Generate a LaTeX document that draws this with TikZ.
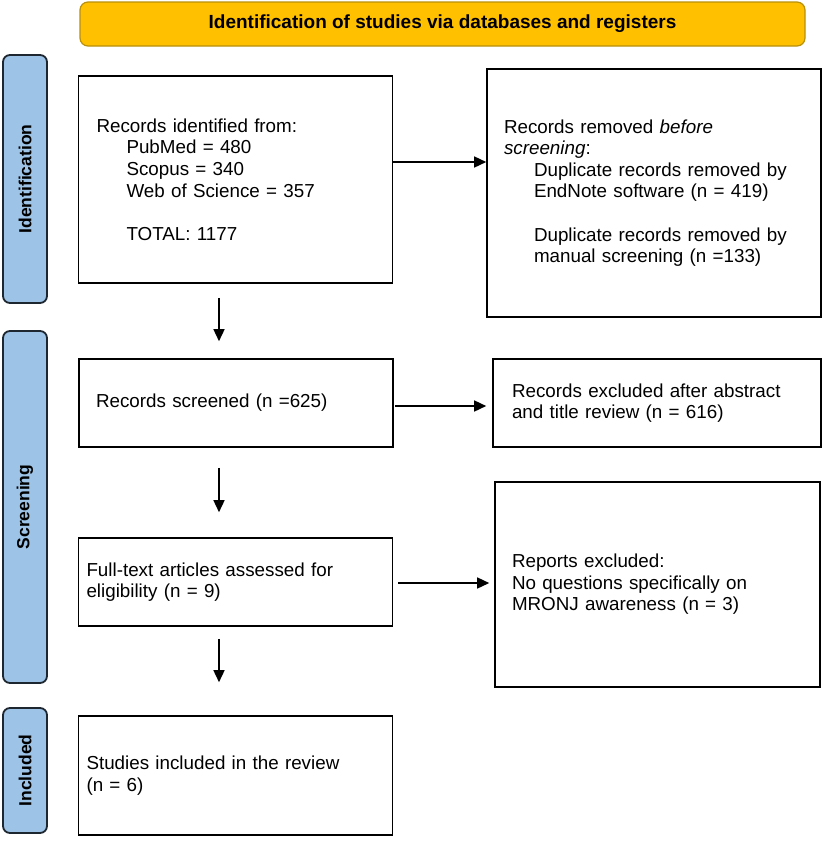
\documentclass[tikz,border=0pt]{standalone}
\usepackage{fontspec}
\setmainfont{Liberation Sans}
\usetikzlibrary{arrows.meta}
\definecolor{bannerfill}{HTML}{FFC000}
\definecolor{bannerdraw}{HTML}{B8900A}
\definecolor{barfill}{HTML}{9DC3E6}
\definecolor{bardraw}{HTML}{1E2630}
\tikzset{
  banner/.style={draw=bannerdraw, fill=bannerfill, line width=1.2pt, rounded corners=8pt,
    minimum width=725pt, minimum height=44pt, inner sep=0pt,
    font=\fontsize{19}{22}\selectfont\bfseries},
  sidebar/.style={draw=bardraw, fill=barfill, line width=1.8pt, rounded corners=7pt, inner sep=0pt},
  sidetext/.style={rotate=90, font=\fontsize{17.5}{20}\selectfont\bfseries, inner sep=0pt},
  flowbox/.style={draw=black, line width=1.6pt, inner ysep=0pt, align=left,
    font=\fontsize{18.8}{21.6}\selectfont},
  arr/.style={draw=black, line width=1.5pt, -{Triangle[length=12pt,width=11pt]}}
}
\newcommand{\ind}{\hspace*{30pt}}
\begin{document}
\begin{tikzpicture}[x=1pt,y=-1pt]
\useasboundingbox (0,0) rectangle (824,846);
% banner
\node[banner] (ban) at (442.5,24) {Identification of studies via databases and registers};
% sidebars
\draw[sidebar] (3,55) rectangle (47,303);
\node[sidetext] (sid1) at (25,179) {Identification};
\draw[sidebar] (3,331) rectangle (47,683);
\node[sidetext] (sid2) at (25,507) {Screening};
\draw[sidebar] (3,708) rectangle (47,833);
\node[sidetext] (sid3) at (25,770.5) {Included};
% boxes
\node[flowbox, minimum height=207pt, text width=278pt, inner xsep=18pt] (A) at (235.5,179.5)
 {Records identified from:\\
  \ind PubMed = 480\\
  \ind Scopus = 340\\
  \ind Web of Science = 357\\[21.6pt]
  \ind TOTAL: 1177};
\node[flowbox, minimum height=248pt, text width=300pt, inner xsep=17pt] (B) at (654,193)
 {Records removed \textit{before}\\
  \textit{screening}:\\
  \ind Duplicate records removed by\\
  \ind EndNote software (n = 419)\\[21.6pt]
  \ind Duplicate records removed by\\
  \ind manual screening (n =133)};
\node[flowbox, minimum height=88pt, text width=280pt, inner xsep=17pt] (C) at (236,403)
 {Records screened (n =625)};
\node[flowbox, minimum height=88pt, text width=290pt, inner xsep=19pt] (D) at (657,403)
 {Records excluded after abstract\\and title review (n = 616)};
\node[flowbox, minimum height=88pt, text width=298pt, inner xsep=8pt] (E) at (235.5,582)
 {Full-text articles assessed for\\eligibility (n = 9)};
\node[flowbox, minimum height=205pt, text width=291pt, inner xsep=17pt] (F) at (657.5,584.5)
 {Reports excluded:\\No questions specifically on\\MRONJ awareness (n = 3)};
\node[flowbox, minimum height=119pt, text width=298pt, inner xsep=8pt] (G) at (235.5,775.5)
 {Studies included in the review\\(n = 6)};
% connector guides
\coordinate (vx) at (219,0);
\coordinate (h1) at (0,162);
\coordinate (h2) at (0,406);
\coordinate (h3) at (0,583);
% arrows
\draw[arr] (A.east |- h1) -- (B.west |- h1);
\draw[arr, shorten <=1pt, shorten >=6pt] (C.east |- h2) -- (D.west |- h2);
\draw[arr, shorten <=5pt, shorten >=5pt] (E.east |- h3) -- (F.west |- h3);
\draw[arr, shorten <=14pt, shorten >=17pt] (A.south -| vx) -- (C.north -| vx);
\draw[arr, shorten <=20pt, shorten >=25pt] (C.south -| vx) -- (E.north -| vx);
\draw[arr, shorten <=12pt, shorten >=33pt] (E.south -| vx) -- (G.north -| vx);
\end{tikzpicture}
\end{document}
